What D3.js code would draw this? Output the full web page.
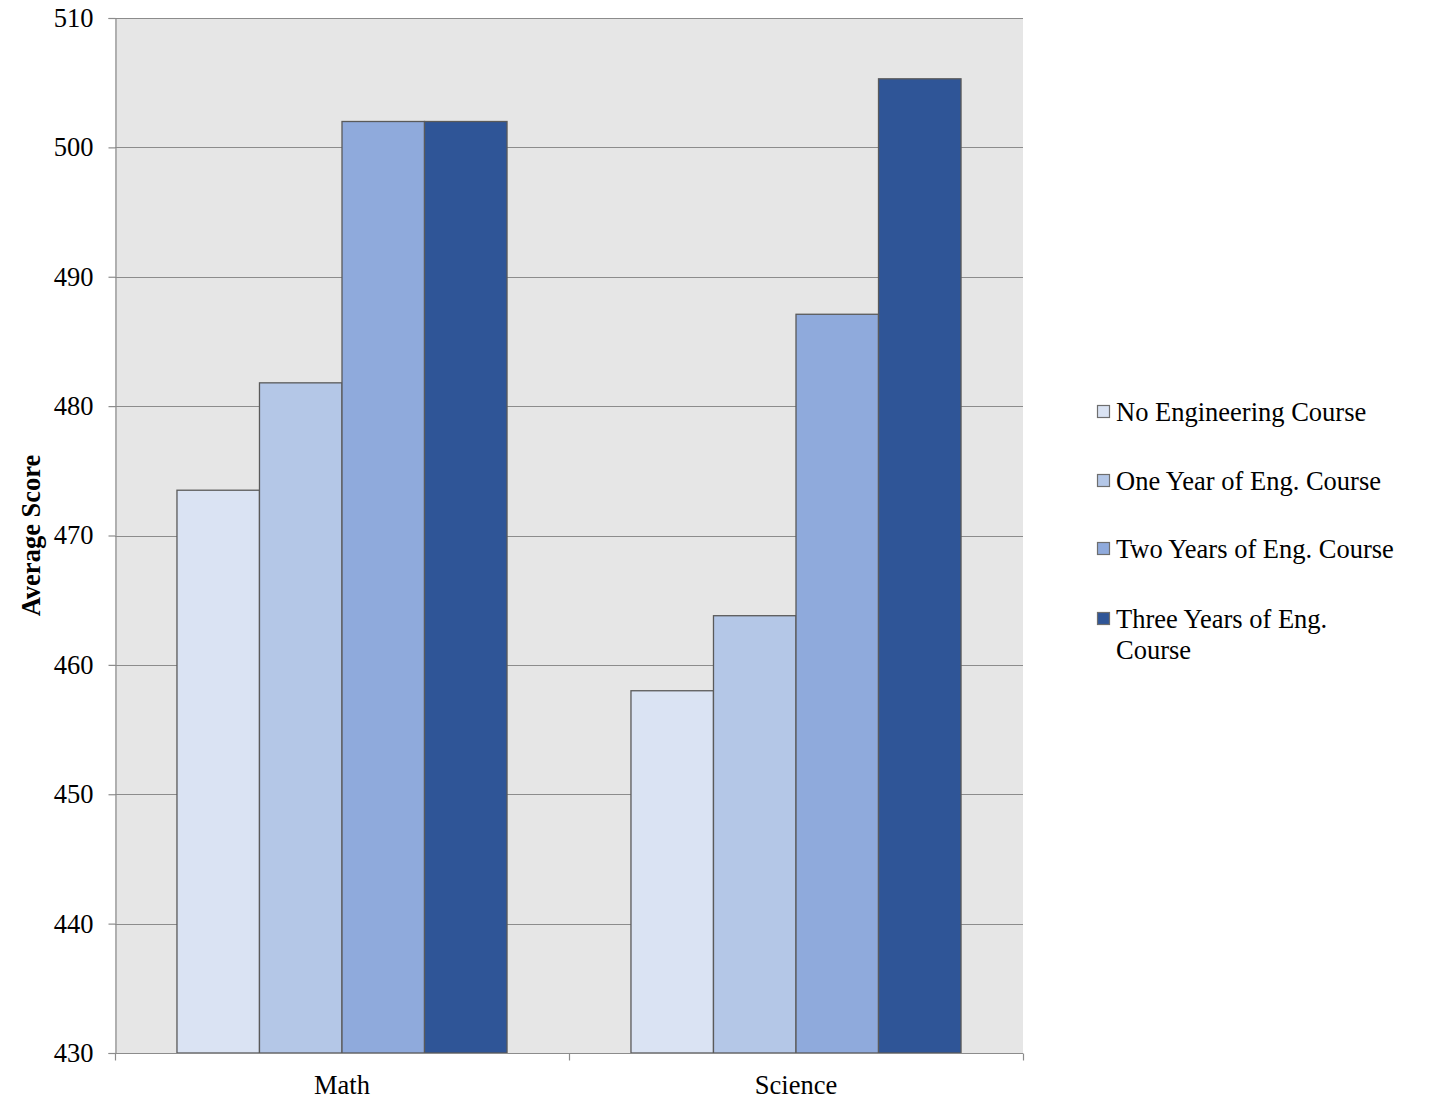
<!DOCTYPE html>
<html>
<head>
<meta charset="utf-8">
<script src="https://cdn.jsdelivr.net/npm/d3@7"></script>
<style>
  html, body { margin: 0; padding: 0; background: #fff; }
  svg { display: block; font-family: "Liberation Serif", "Times New Roman", serif; }
</style>
</head>
<body>
<svg id="chart" width="1431" height="1099"></svg>
<script>
// Subjects on the x axis
const categories = ["Math", "Science"];
// Course-exposure groups (legend entries)
const seriesNames = [
  "No Engineering Course",
  "One Year of Eng. Course",
  "Two Years of Eng. Course",
  "Three Years of Eng. Course"
];
// Average scores per group, one value per subject
const noCourse   = [473.5, 458.0];
const oneYear    = [481.8, 463.8];
const twoYears   = [502.0, 487.1];
const threeYears = [502.0, 505.3];
const seriesValues = [noCourse, oneYear, twoYears, threeYears];
const seriesColors = ["#dae3f3", "#b4c7e7", "#8faadc", "#2f5597"];
const yTicks = [430, 440, 450, 460, 470, 480, 490, 500, 510];

const FS = 26.5;
const svg = d3.select("#chart");
const plot = { left: 115, right: 1023, top: 18, bottom: 1053 };

const y = d3.scaleLinear().domain([430, 510]).range([plot.bottom, plot.top]);
const x0 = d3.scaleBand().domain(categories).range([plot.left, plot.right])
  .paddingInner(0.273).paddingOuter(0.1365);
const x1 = d3.scaleBand().domain(d3.range(seriesNames.length)).range([0, x0.bandwidth()]);

// Plot background
svg.append("rect")
  .attr("x", plot.left).attr("y", plot.top)
  .attr("width", plot.right - plot.left).attr("height", plot.bottom - plot.top)
  .attr("fill", "#e6e6e6");

// Horizontal gridlines
svg.append("g").selectAll("line").data(yTicks).join("line")
  .attr("x1", plot.left).attr("x2", plot.right)
  .attr("y1", d => Math.round(y(d)) + 0.5).attr("y2", d => Math.round(y(d)) + 0.5)
  .attr("stroke", "#8c8c8c").attr("stroke-width", 1.2);

// Bars
const groups = svg.append("g").selectAll("g").data(categories).join("g")
  .attr("transform", c => `translate(${x0(c)},0)`);
groups.selectAll("rect")
  .data((c, ci) => seriesValues.map((vals, si) => ({ si, v: vals[ci] })))
  .join("rect")
  .attr("x", d => x1(d.si))
  .attr("y", d => y(d.v))
  .attr("width", x1.bandwidth())
  .attr("height", d => y(430) - y(d.v))
  .attr("fill", d => seriesColors[d.si])
  .attr("stroke", "#5a5a5a").attr("stroke-width", 1.3);

// Y axis
const yAxis = svg.append("g")
  .attr("transform", `translate(${plot.left + 0.5},0)`)
  .call(d3.axisLeft(y).tickValues(yTicks).tickSize(7).tickPadding(15).tickFormat(d3.format("d")));
yAxis.select(".domain").attr("stroke", "#8c8c8c").attr("stroke-width", 1.2);
yAxis.selectAll(".tick line").attr("stroke", "#8c8c8c").attr("stroke-width", 1.2);
yAxis.selectAll("text").attr("font-size", FS).attr("fill", "#000")
  .attr("font-family", "Liberation Serif, serif");

// X axis with boundary ticks between categories
const xAxisG = svg.append("g").attr("transform", `translate(0,${plot.bottom + 0.5})`);
xAxisG.append("line").attr("x1", plot.left).attr("x2", plot.right)
  .attr("stroke", "#8c8c8c").attr("stroke-width", 1.2);
const boundaries = [plot.left, ...categories.slice(1).map(c => x0(c) - x0.step() * x0.paddingInner() / 2), plot.right];
xAxisG.selectAll("line.tk").data(boundaries).join("line").attr("class", "tk")
  .attr("x1", d => Math.round(d) + 0.5).attr("x2", d => Math.round(d) + 0.5)
  .attr("y1", 0).attr("y2", 7).attr("stroke", "#8c8c8c").attr("stroke-width", 1.2);
xAxisG.selectAll("text").data(categories).join("text")
  .attr("x", c => x0(c) + x0.bandwidth() / 2).attr("y", 40)
  .attr("text-anchor", "middle").attr("font-size", FS).attr("fill", "#000")
  .text(c => c);

// Y axis title
svg.append("text")
  .attr("transform", `translate(40,${(plot.top + plot.bottom) / 2}) rotate(-90)`)
  .attr("text-anchor", "middle").attr("font-size", FS).attr("font-weight", "bold")
  .text("Average Score");

// Legend
const legendLines = [
  ["No Engineering Course"],
  ["One Year of Eng. Course"],
  ["Two Years of Eng. Course"],
  ["Three Years of Eng.", "Course"]
];
const legend = svg.append("g").attr("transform", "translate(1097,0)");
const rowY = [412, 481, 549, 619];
const items = legend.selectAll("g").data(seriesNames).join("g")
  .attr("transform", (d, i) => `translate(0,${rowY[i]})`);
items.append("rect")
  .attr("x", 0.5).attr("y", -6.5).attr("width", 12).attr("height", 12)
  .attr("fill", (d, i) => seriesColors[i]).attr("stroke", "#6e6e6e").attr("stroke-width", 1.2);
items.append("text")
  .attr("x", 19).attr("y", 9).attr("font-size", FS).attr("fill", "#000")
  .selectAll("tspan").data((d, i) => legendLines[i]).join("tspan")
  .attr("x", 19).attr("dy", (t, j) => j === 0 ? 0 : 31)
  .text(t => t);
</script>
</body>
</html>
